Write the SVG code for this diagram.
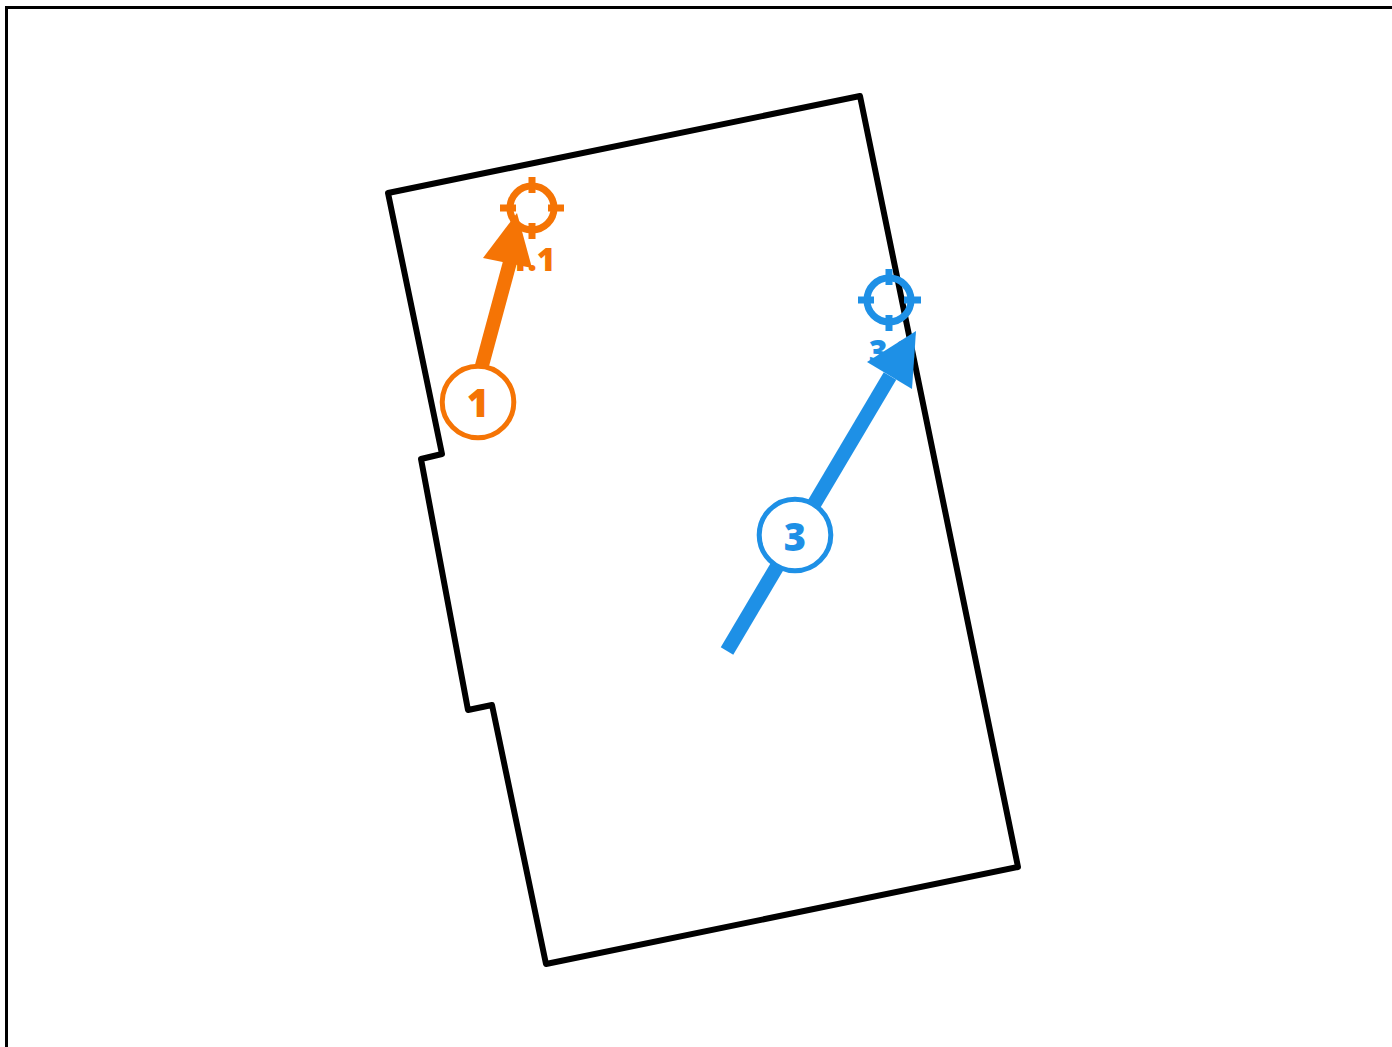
<svg xmlns="http://www.w3.org/2000/svg" width="1392" height="1047" viewBox="0 0 1392 1047">
<style>
text{font-family:"Open Sans","Noto Sans",sans-serif;font-weight:800;text-anchor:middle}
.orange{color:#f57405}
.blue{color:#1e90e6}
.target circle{fill:none;stroke:currentColor;stroke-width:7}
.target path{fill:none;stroke:currentColor;stroke-width:7}
.lbl{font-size:32px;fill:currentColor}
.badge circle{fill:#fff;stroke:currentColor;stroke-width:5}
.badge text{font-size:38px;fill:currentColor}
.shaft{stroke:currentColor;fill:none}
.head{fill:currentColor}
</style>
<rect width="1392" height="1047" fill="#fff"/>
<path id="frame" d="M6.500 1047V7.500H1392" fill="none" stroke="#000" stroke-width="3"/>
<g id="room"><path d="M388 193L860 96L1018 867L546 964L492 705L468 710L421 459L442 454Z" fill="#fff" stroke="#000" stroke-width="6" stroke-linejoin="round"/></g>
<g id="target-1" class="target orange"><circle cx="532" cy="208" r="22"/><path d="M532 177V193M532 223V239M500 208H516M548 208H564"/><text class="lbl" x="532" y="271">1.1</text></g>
<g id="target-3" class="target blue"><circle cx="889" cy="300" r="22"/><path d="M889 269V285M889 315V331M858 300H874M904 300H921"/><text class="lbl" x="892" y="363">3.3</text></g>
<g id="connectors">
<g class="orange"><path class="shaft" stroke-width="14" d="M474 395L510 262"/><path class="head" d="M517 213L483 258L532 268Z"/></g>
<g class="blue"><path class="shaft" stroke-width="14.500" d="M727 651L890 376"/><path class="head" d="M916 331L867 362L912 389Z"/></g>
</g>
<g id="badge-1" class="badge orange"><circle cx="478" cy="402" r="35.800"/><text x="478" y="417">1</text></g>
<g id="badge-3" class="badge blue"><circle cx="795" cy="535" r="35.800"/><text x="795" y="551">3</text></g>
</svg>
